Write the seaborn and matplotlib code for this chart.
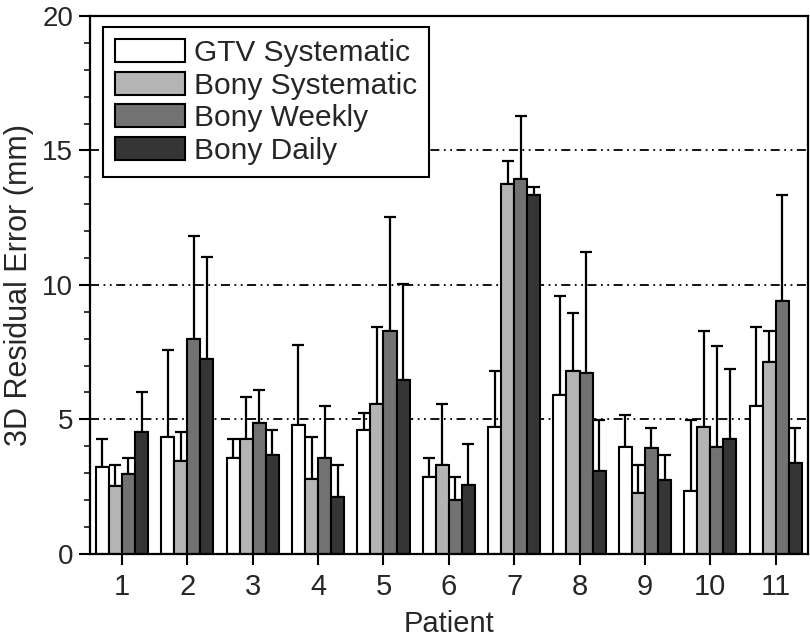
import numpy as np
import pandas as pd
import matplotlib
matplotlib.use("Agg")
import matplotlib.pyplot as plt
import seaborn as sns

# ==== Datos ====
patients = [1, 2, 3, 4, 5, 6, 7, 8, 9, 10, 11]
series = ["GTV Systematic", "Bony Systematic", "Bony Weekly", "Bony Daily"]
colors = ["#ffffff", "#b4b4b4", "#727272", "#353535"]

gtv_sys = [3.22, 4.36, 3.57, 4.78, 4.61, 2.87, 4.71, 5.92, 3.99, 2.35, 5.50]
bony_sys = [2.53, 3.47, 4.26, 2.80, 5.58, 3.31, 13.75, 6.79, 2.26, 4.71, 7.14]
bony_weekly = [2.97, 8.00, 4.88, 3.57, 8.28, 2.00, 13.93, 6.72, 3.92, 3.99, 9.42]
bony_daily = [4.54, 7.24, 3.69, 2.13, 6.47, 2.55, 13.33, 3.07, 2.73, 4.26, 3.39]

# barras de error (solo hacia arriba)
gtv_sys_sd = [1.04, 3.22, 0.69, 2.98, 0.62, 0.70, 2.08, 3.65, 1.17, 2.61, 2.95]
bony_sys_sd = [0.79, 1.07, 1.59, 1.56, 2.87, 2.27, 0.87, 2.18, 1.04, 3.57, 1.16]
bony_weekly_sd = [0.60, 3.82, 1.22, 1.93, 4.26, 0.87, 2.35, 4.51, 0.76, 3.74, 3.91]
bony_daily_sd = [1.46, 3.81, 0.92, 1.18, 3.57, 1.54, 0.32, 1.89, 0.94, 2.63, 1.29]

means = [gtv_sys, bony_sys, bony_weekly, bony_daily]
sds = [gtv_sys_sd, bony_sys_sd, bony_weekly_sd, bony_daily_sd]

df = pd.DataFrame({
    "Patient": np.tile(patients, len(series)),
    "Serie": np.repeat(series, len(patients)),
    "Error": np.concatenate(means),
})

sns.set_style("ticks")
plt.rcParams["font.family"] = ["Liberation Sans", "DejaVu Sans"]

fig = plt.figure(figsize=(8.1, 6.41), dpi=100)
ax = fig.add_axes([0.111, 0.136, 0.887, 0.839])

# lineas de referencia punto-punto-raya
for yv in [5, 10, 15]:
    ax.axhline(yv, color="black", lw=1.3, zorder=0,
               linestyle=(0, (5, 2.5, 1, 2.5, 1, 2.5)))

sns.barplot(data=df, x="Patient", y="Error", hue="Serie", hue_order=series,
            palette=colors, saturation=1, errorbar=None, edgecolor="black",
            linewidth=1.5, width=0.8, ax=ax, zorder=2)

for cont, sd in zip(ax.containers, sds):
    xs = [p.get_x() + p.get_width() / 2 for p in cont.patches]
    hs = [p.get_height() for p in cont.patches]
    ax.errorbar(xs, hs, yerr=[np.zeros(len(sd)), sd], fmt="none",
                ecolor="black", elinewidth=1.6, capsize=4, capthick=1.6,
                zorder=1)

ax.set_ylim(0, 20)
ax.set_xlim(-0.49, 10.5)
ax.set_yticks([0, 5, 10, 15, 20])
ax.set_yticks(np.arange(0, 21, 1), minor=True)
ax.tick_params(axis="both", which="major", direction="out", length=8,
               width=1.5, color="black")
ax.tick_params(axis="y", which="major", labelsize=20, pad=4)
ax.tick_params(axis="x", which="major", labelsize=21, pad=6)
ax.tick_params(axis="y", which="minor", direction="out", length=4, width=1.3)
for s in ax.spines.values():
    s.set_visible(True)
    s.set_linewidth(1.6)
    s.set_color("black")

ax.set_xlabel("Patient", fontsize=21, labelpad=6)
ax.set_ylabel("3D Residual Error (mm)", fontsize=22, labelpad=6)

leg = ax.legend(loc="upper left", bbox_to_anchor=(0.018, 0.98),
                borderaxespad=0, fontsize=21.5, frameon=True, fancybox=False,
                framealpha=1, edgecolor="black", handlelength=2.35,
                handleheight=0.8, handletextpad=0.3, labelspacing=0.16,
                borderpad=0.4, title=None)
leg.get_frame().set_linewidth(1.5)
for h in leg.legend_handles:
    h.set_edgecolor("black")
    h.set_linewidth(1.5)

fig.savefig("out.png", dpi=100)
plt.close(fig)
